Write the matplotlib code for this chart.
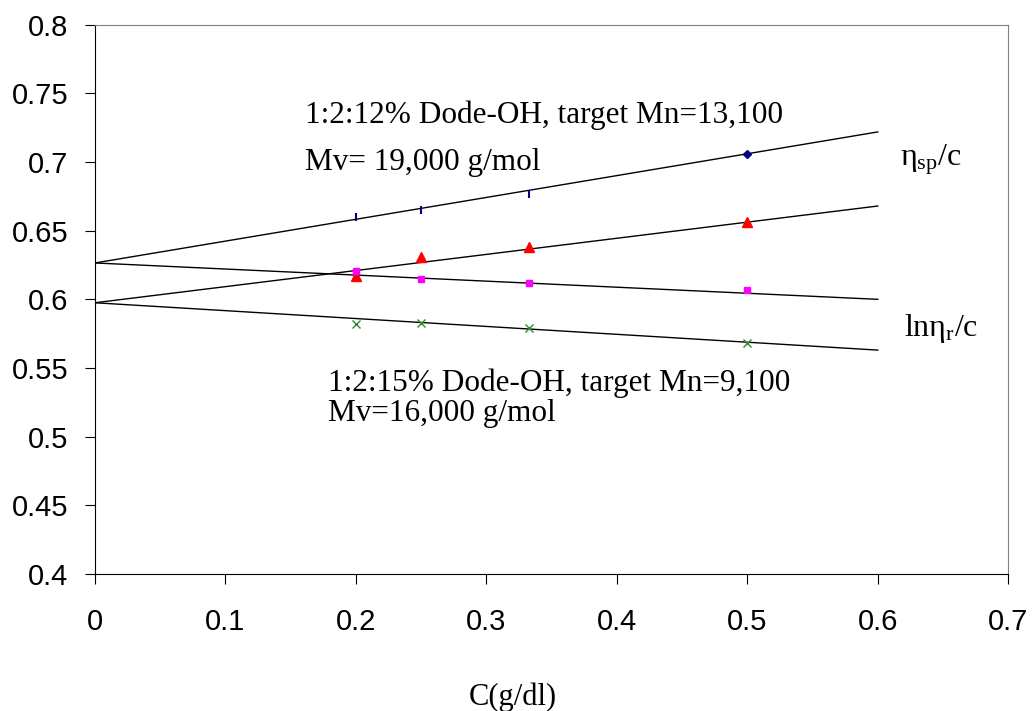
import matplotlib.pyplot as plt

# concentrations (g/dl)
conc = [0.2, 0.25, 0.333, 0.5]

# 1:2:12% sample
sp_c_12 = [0.660, 0.665, 0.677, 0.706]
# 1:2:15% sample
sp_c_15 = [0.617, 0.631, 0.638, 0.656]
ln_c_12 = [0.621, 0.615, 0.612, 0.607]
ln_c_15 = [0.582, 0.583, 0.579, 0.568]

# trendline end points (x = 0 and x = 0.6)
fit_x = [0, 0.6]
fit_sp_12 = [0.6265, 0.722]
fit_sp_15 = [0.5975, 0.668]
fit_ln_12 = [0.6265, 0.600]
fit_ln_15 = [0.5975, 0.563]

plt.rcParams['mathtext.fontset'] = 'stix'

fig = plt.figure(figsize=(10.32, 7.11), dpi=100)
ax = fig.add_axes([0.092, 0.193, 0.885, 0.772])

for fy in [fit_sp_12, fit_sp_15, fit_ln_12, fit_ln_15]:
    ax.plot(fit_x, fy, color='black', lw=1)

ax.plot(conc[:3], sp_c_12[:3], ls='none', marker='|', ms=6, mew=1.5, color='#000080')
ax.plot(conc[3:], sp_c_12[3:], ls='none', marker='D', ms=4, color='#000080')
ax.plot(conc, sp_c_15, ls='none', marker='^', ms=7, color='#ff0000')
ax.plot(conc, ln_c_12, ls='none', marker='s', ms=5, color='#ff00ff')
ax.plot(conc, ln_c_15, ls='none', marker='x', ms=6, mew=1, color='#2e8b2e')

ax.set_xlim(0, 0.7)
ax.set_ylim(0.4, 0.8)
ax.set_xticks([0, 0.1, 0.2, 0.3, 0.4, 0.5, 0.6, 0.7])
ax.set_xticklabels(['0', '0.1', '0.2', '0.3', '0.4', '0.5', '0.6', '0.7'])
ax.set_yticks([0.4, 0.45, 0.5, 0.55, 0.6, 0.65, 0.7, 0.75, 0.8])
ax.set_yticklabels(['0.4', '0.45', '0.5', '0.55', '0.6', '0.65', '0.7', '0.75', '0.8'])
ax.tick_params(direction='out', length=7, labelsize=21)
ax.tick_params(axis='x', pad=18)
ax.tick_params(axis='y', pad=12)
for lbl in ax.get_xticklabels() + ax.get_yticklabels():
    lbl.set_family('Liberation Sans')
ax.spines['top'].set_color('#808080')
ax.spines['right'].set_color('#808080')

serif = 'Liberation Serif'
fs = 22.5
ax.text(0.161, 0.734, '1:2:12% Dode-OH, target Mn=13,100', family=serif, fontsize=fs, va='center')
ax.text(0.161, 0.700, 'Mv= 19,000 g/mol', family=serif, fontsize=fs, va='center')
ax.text(0.179, 0.539, '1:2:15% Dode-OH, target Mn=9,100', family=serif, fontsize=fs, va='center')
ax.text(0.179, 0.517, 'Mv=16,000 g/mol', family=serif, fontsize=fs, va='center')
ax.text(0.617, 0.702, r'$\mathregular{\eta_{sp}}$/c', family=serif, fontsize=23, va='center')
ax.text(0.620, 0.579, r'ln$\mathregular{\eta_{r}}$/c', family=serif, fontsize=23, va='center')

fig.text(0.497, 0.02, 'C(g/dl)', family=serif, fontsize=22, ha='center', va='center')

fig.savefig('out.png', dpi=100)
